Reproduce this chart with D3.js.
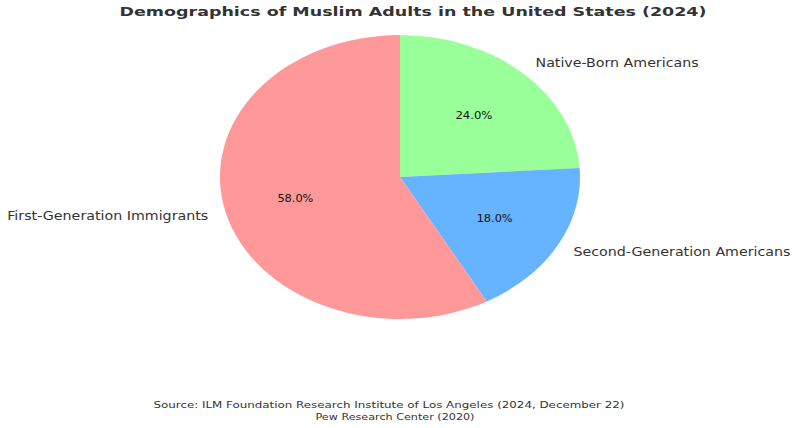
<!DOCTYPE html>
<html>
<head>
<meta charset="utf-8">
<script src="https://cdn.jsdelivr.net/npm/d3@7"></script>
<style>
  body { margin: 0; background: #fff; }
  text { font-family: "DejaVu Sans", sans-serif; }
</style>
</head>
<body>
<script>
// chart data
var categories = ["Native-Born Americans", "Second-Generation Americans", "First-Generation Immigrants"];
var values = [24, 18, 58];
var palette = ["#99ff99", "#66b3ff", "#ff9999"];
var labelWidths = [163, 217, 201];
var pctWidths = [37, 36, 36];

var width = 800;
var height = 428;

// pie is drawn as an ellipse, the picture was stretched horizontally
var cx = 400, cy = 177;
var rx = 180, ry = 142;

var svg = d3.select("body")
            .append("svg")
            .attr("width", width)
            .attr("height", height);

// maps unit circle coordinates to the stretched page
var xScale = d3.scaleLinear().domain([-1, 1]).range([cx - rx, cx + rx]);
var yScale = d3.scaleLinear().domain([-1, 1]).range([cy - ry, cy + ry]);

var color = d3.scaleOrdinal().domain(categories).range(palette);

// clockwise from the top, like matplotlib with startangle 90 and counterclock false
var pie = d3.pie()
            .value(function(d, i) { return values[i]; })
            .sort(null);

var arcs = pie(categories);

var arc = d3.arc().innerRadius(0).outerRadius(1);
var labelArc = d3.arc().innerRadius(1.1).outerRadius(1.1);
var pctArc = d3.arc().innerRadius(0.6).outerRadius(0.6);

var g = svg.append("g")
           .attr("transform", "translate(" + cx + "," + cy + ") scale(" + rx + "," + ry + ")");

g.selectAll("path")
 .data(arcs)
 .enter()
 .append("path")
 .attr("d", arc)
 .attr("fill", function(d) { return color(d.data); });

// category labels outside the pie
svg.selectAll("text.label")
   .data(arcs)
   .enter()
   .append("text")
   .attr("class", "label")
   .attr("x", function(d) { return xScale(labelArc.centroid(d)[0]); })
   .attr("y", function(d) { return yScale(labelArc.centroid(d)[1]) + 4; })
   .attr("text-anchor", function(d) { return labelArc.centroid(d)[0] > 0 ? "start" : "end"; })
   .attr("textLength", function(d, i) { return labelWidths[i]; })
   .attr("lengthAdjust", "spacingAndGlyphs")
   .style("font-size", "11.5px")
   .style("fill", "#333")
   .text(function(d) { return d.data; });

// percentages inside the slices
svg.selectAll("text.pct")
   .data(arcs)
   .enter()
   .append("text")
   .attr("class", "pct")
   .attr("x", function(d) { return xScale(pctArc.centroid(d)[0]); })
   .attr("y", function(d) { return yScale(pctArc.centroid(d)[1]) + 4; })
   .attr("text-anchor", "middle")
   .attr("textLength", function(d, i) { return pctWidths[i]; })
   .attr("lengthAdjust", "spacingAndGlyphs")
   .style("font-size", "10.5px")
   .style("fill", "#111")
   .text(function(d, i) { return values[i].toFixed(1) + "%"; });

// title
svg.append("text")
   .attr("x", 413)
   .attr("y", 16)
   .attr("text-anchor", "middle")
   .attr("textLength", 587)
   .attr("lengthAdjust", "spacingAndGlyphs")
   .style("font-size", "13px")
   .style("font-weight", "bold")
   .style("fill", "#333")
   .text("Demographics of Muslim Adults in the United States (2024)");

// source note
svg.append("text")
   .attr("x", 389)
   .attr("y", 408)
   .attr("text-anchor", "middle")
   .attr("textLength", 471)
   .attr("lengthAdjust", "spacingAndGlyphs")
   .style("font-size", "9.5px")
   .style("fill", "#333")
   .text("Source: ILM Foundation Research Institute of Los Angeles (2024, December 22)");

svg.append("text")
   .attr("x", 395)
   .attr("y", 420)
   .attr("text-anchor", "middle")
   .attr("textLength", 159)
   .attr("lengthAdjust", "spacingAndGlyphs")
   .style("font-size", "9.5px")
   .style("fill", "#333")
   .text("Pew Research Center (2020)");
</script>
</body>
</html>
